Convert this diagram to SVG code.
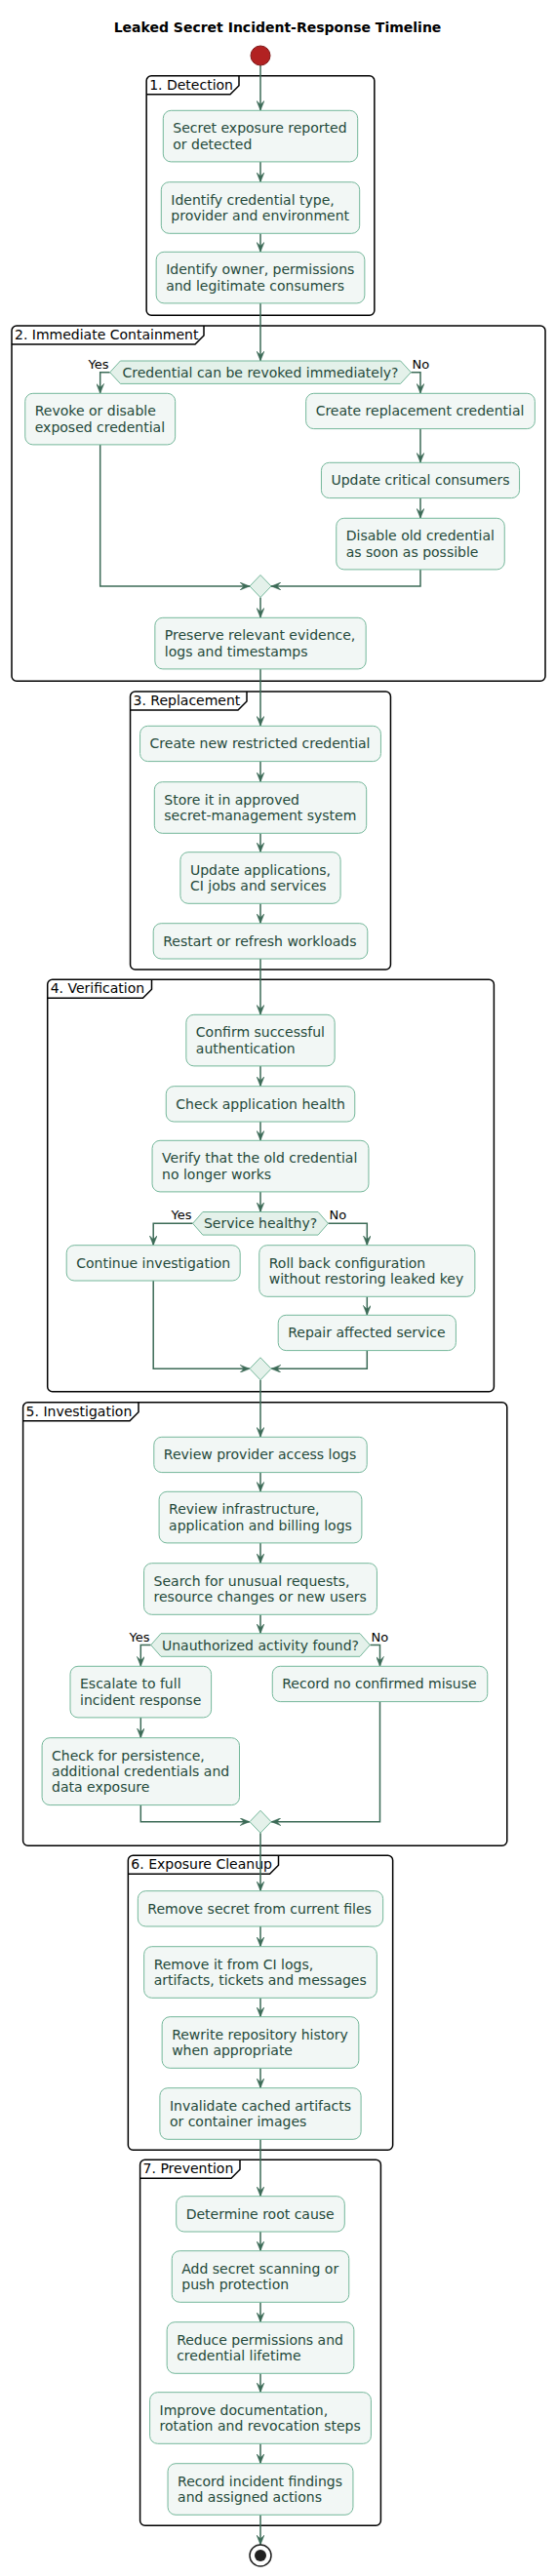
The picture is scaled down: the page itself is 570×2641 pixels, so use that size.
<svg xmlns="http://www.w3.org/2000/svg" width="570" height="2641" viewBox="0 0 570 2641">
<defs>
<style>
text{font-family:"DejaVu Sans","Noto Sans",sans-serif;}
.title{font-size:14px;font-weight:bold;fill:#000;}
.frame{fill:none;stroke:#000;stroke-width:1.5;}
.tab{fill:none;stroke:#000;stroke-width:1.5;}
.ft{font-size:14px;fill:#000;}
.act{fill:#F2F7F5;stroke:#74B79A;stroke-width:1;}
.dec{fill:#E4F1EA;stroke:#74B79A;stroke-width:1;}
.nt{font-size:14px;fill:#24493A;}
.lbl{font-size:13px;fill:#000;}
.con{fill:none;stroke:#3C6B57;stroke-width:1.5;marker-end:url(#ah);}
</style>
<marker id="ah" markerUnits="userSpaceOnUse" markerWidth="10" markerHeight="8" viewBox="0 0 10 8" refX="10" refY="4" orient="auto">
<polygon points="0,0 10,4 0,8 4,4" fill="#3C6B57" stroke="#3C6B57" stroke-width="0.5"/>
</marker>
</defs>
<rect x="0" y="0" width="570" height="2641" fill="#FFFFFF"/>
<text class="title" x="284.5" y="33" text-anchor="middle">Leaked Secret Incident-Response Timeline</text>

<g id="frames">
<g id="frame1"><rect class="frame" x="150.15" y="77.7" width="233.7" height="245.6" rx="5"/><path class="tab" d="M150.15,96.7 L236,96.7 L245,87.7 L245,77.7"/><text class="ft" x="153.15" y="91.7">1. Detection</text></g>
<g id="frame2"><rect class="frame" x="12" y="334" width="547" height="364.3" rx="5"/><path class="tab" d="M12,353 L200,353 L209,344 L209,334"/><text class="ft" x="15" y="348">2. Immediate Containment</text></g>
<g id="frame3"><rect class="frame" x="133.55" y="709" width="266.9" height="285" rx="5"/><path class="tab" d="M133.55,728 L244,728 L253,719 L253,709"/><text class="ft" x="136.55" y="723">3. Replacement</text></g>
<g id="frame4"><rect class="frame" x="48.7" y="1004.3" width="457.7" height="422.4" rx="5"/><path class="tab" d="M48.7,1023.3 L146.5,1023.3 L155.5,1014.3 L155.5,1004.3"/><text class="ft" x="51.7" y="1018.3">4. Verification</text></g>
<g id="frame5"><rect class="frame" x="23.6" y="1437.7" width="496.2" height="454.6" rx="5"/><path class="tab" d="M23.6,1456.7 L133,1456.7 L142,1447.7 L142,1437.7"/><text class="ft" x="26.6" y="1451.7">5. Investigation</text></g>
<g id="frame6"><rect class="frame" x="131.35" y="1902.3" width="271.3" height="302" rx="5"/><path class="tab" d="M131.35,1921.3 L276.5,1921.3 L285.5,1912.3 L285.5,1902.3"/><text class="ft" x="134.35" y="1916.3">6. Exposure Cleanup</text></g>
<g id="frame7"><rect class="frame" x="143.6" y="2214.3" width="246.8" height="375" rx="5"/><path class="tab" d="M143.6,2233.3 L237,2233.3 L246,2224.3 L246,2214.3"/><text class="ft" x="146.6" y="2228.3">7. Prevention</text></g>
</g>

<g id="connectors">
<path class="con" d="M267,67 L267,113.3"/>
<path class="con" d="M267,165.9 L267,186.7"/>
<path class="con" d="M267,239.3 L267,258.3"/>
<path class="con" d="M267,310.9 L267,370"/>
<path class="con" d="M112.7,381.7 L102.7,381.7 L102.7,403.3"/>
<path class="con" d="M421.3,381.7 L431,381.7 L431,403.3"/>
<path class="con" d="M431,439.6 L431,474.3"/>
<path class="con" d="M431,510.6 L431,531.3"/>
<path class="con" d="M102.7,455.9 L102.7,601 L256,601"/>
<path class="con" d="M431,583.9 L431,601 L278,601"/>
<path class="con" d="M267,612.5 L267,633.3"/>
<path class="con" d="M267,685.9 L267,744.3"/>
<path class="con" d="M267,780.6 L267,801.7"/>
<path class="con" d="M267,854.3 L267,873.7"/>
<path class="con" d="M267,926.3 L267,946.7"/>
<path class="con" d="M267,983 L267,1040.3"/>
<path class="con" d="M267,1092.9 L267,1113.7"/>
<path class="con" d="M267,1150 L267,1169.3"/>
<path class="con" d="M267,1221.9 L267,1242.5"/>
<path class="con" d="M197.6,1254.3 L157.2,1254.3 L157.2,1276.7"/>
<path class="con" d="M336.4,1254.3 L376.3,1254.3 L376.3,1276.7"/>
<path class="con" d="M376.3,1329.3 L376.3,1348.3"/>
<path class="con" d="M157.2,1313 L157.2,1403.3 L256,1403.3"/>
<path class="con" d="M376.3,1384.6 L376.3,1403.3 L278,1403.3"/>
<path class="con" d="M267,1414.8 L267,1473.3"/>
<path class="con" d="M267,1509.6 L267,1529.3"/>
<path class="con" d="M267,1581.9 L267,1602.7"/>
<path class="con" d="M267,1655.3 L267,1674.7"/>
<path class="con" d="M154.7,1686.5 L144.3,1686.5 L144.3,1708.3"/>
<path class="con" d="M379.3,1686.5 L389.5,1686.5 L389.5,1708.3"/>
<path class="con" d="M144.3,1760.9 L144.3,1781.7"/>
<path class="con" d="M144.3,1850.6 L144.3,1867.7 L256,1867.7"/>
<path class="con" d="M389.5,1744.6 L389.5,1867.7 L278,1867.7"/>
<path class="con" d="M267,1879.2 L267,1938.7"/>
<path class="con" d="M267,1975 L267,1995.7"/>
<path class="con" d="M267,2048.3 L267,2067.7"/>
<path class="con" d="M267,2120.3 L267,2140.7"/>
<path class="con" d="M267,2193.3 L267,2251.7"/>
<path class="con" d="M267,2288 L267,2307.7"/>
<path class="con" d="M267,2360.3 L267,2380.7"/>
<path class="con" d="M267,2433.3 L267,2452.7"/>
<path class="con" d="M267,2505.3 L267,2525.7"/>
<path class="con" d="M267,2578.3 L267,2609"/>
</g>

<g id="start"><circle cx="267" cy="57" r="10" fill="#B22222" stroke="#7F1A1A" stroke-width="1"/></g>

<g id="n1"><rect class="act" x="167.3" y="113.3" width="199.4" height="52.6" rx="8"/><text class="nt" x="177.3" y="136.3">Secret exposure reported</text><text class="nt" x="177.3" y="152.6">or detected</text></g>
<g id="n2"><rect class="act" x="165.3" y="186.7" width="203.4" height="52.6" rx="8"/><text class="nt" x="175.3" y="209.7">Identify credential type,</text><text class="nt" x="175.3" y="226">provider and environment</text></g>
<g id="n3"><rect class="act" x="160.15" y="258.3" width="213.7" height="52.6" rx="8"/><text class="nt" x="170.15" y="281.3">Identify owner, permissions</text><text class="nt" x="170.15" y="297.6">and legitimate consumers</text></g>

<g id="d1"><polygon class="dec" points="112.7,381.7 123.4,370 410.6,370 421.3,381.7 410.6,393.4 123.4,393.4"/><text class="nt" x="267" y="386.7" text-anchor="middle" textLength="283" lengthAdjust="spacingAndGlyphs">Credential can be revoked immediately?</text><text class="lbl" x="111.5" y="377.5" text-anchor="end">Yes</text><text class="lbl" x="422.5" y="377.5">No</text></g>
<g id="c_revoke"><rect class="act" x="25.75" y="403.3" width="153.9" height="52.6" rx="8"/><text class="nt" x="35.75" y="426.3">Revoke or disable</text><text class="nt" x="35.75" y="442.6">exposed credential</text></g>
<g id="c_create"><rect class="act" x="313.65" y="403.3" width="234.7" height="36.3" rx="8"/><text class="nt" x="323.65" y="426.3">Create replacement credential</text></g>
<g id="c_update"><rect class="act" x="329.45" y="474.3" width="203.1" height="36.3" rx="8"/><text class="nt" x="339.45" y="497.3">Update critical consumers</text></g>
<g id="c_disable"><rect class="act" x="344.75" y="531.3" width="172.5" height="52.6" rx="8"/><text class="nt" x="354.75" y="554.3">Disable old credential</text><text class="nt" x="354.75" y="570.6">as soon as possible</text></g>
<g id="m1"><polygon class="dec" points="267,589.5 278,601 267,612.5 256,601"/></g>
<g id="c_preserve"><rect class="act" x="158.85" y="633.3" width="216.3" height="52.6" rx="8"/><text class="nt" x="168.85" y="656.3">Preserve relevant evidence,</text><text class="nt" x="168.85" y="672.6">logs and timestamps</text></g>

<g id="r1"><rect class="act" x="143.55" y="744.3" width="246.9" height="36.3" rx="8"/><text class="nt" x="153.55" y="767.3">Create new restricted credential</text></g>
<g id="r2"><rect class="act" x="158.3" y="801.7" width="217.4" height="52.6" rx="8"/><text class="nt" x="168.3" y="824.7">Store it in approved</text><text class="nt" x="168.3" y="841">secret-management system</text></g>
<g id="r3"><rect class="act" x="184.9" y="873.7" width="164.2" height="52.6" rx="8"/><text class="nt" x="194.9" y="896.7">Update applications,</text><text class="nt" x="194.9" y="913">CI jobs and services</text></g>
<g id="r4"><rect class="act" x="157.2" y="946.7" width="219.6" height="36.3" rx="8"/><text class="nt" x="167.2" y="969.7">Restart or refresh workloads</text></g>

<g id="v1"><rect class="act" x="190.85" y="1040.3" width="152.3" height="52.6" rx="8"/><text class="nt" x="200.85" y="1063.3">Confirm successful</text><text class="nt" x="200.85" y="1079.6">authentication</text></g>
<g id="v2"><rect class="act" x="170.25" y="1113.7" width="193.5" height="36.3" rx="8"/><text class="nt" x="180.25" y="1136.7">Check application health</text></g>
<g id="v3"><rect class="act" x="156.05" y="1169.3" width="221.9" height="52.6" rx="8"/><text class="nt" x="166.05" y="1192.3">Verify that the old credential</text><text class="nt" x="166.05" y="1208.6">no longer works</text></g>
<g id="d2"><polygon class="dec" points="197.6,1254.3 207.9,1242.5 326.1,1242.5 336.4,1254.3 326.1,1266.1 207.9,1266.1"/><text class="nt" x="267" y="1259.3" text-anchor="middle">Service healthy?</text><text class="lbl" x="196.5" y="1250.3" text-anchor="end">Yes</text><text class="lbl" x="337.5" y="1250.3">No</text></g>
<g id="v_continue"><rect class="act" x="68.2" y="1276.7" width="178" height="36.3" rx="8"/><text class="nt" x="78.2" y="1299.7">Continue investigation</text></g>
<g id="v_rollback"><rect class="act" x="265.75" y="1276.7" width="221.1" height="52.6" rx="8"/><text class="nt" x="275.75" y="1299.7">Roll back configuration</text><text class="nt" x="275.75" y="1316">without restoring leaked key</text></g>
<g id="v_repair"><rect class="act" x="285.2" y="1348.3" width="182.2" height="36.3" rx="8"/><text class="nt" x="295.2" y="1371.3">Repair affected service</text></g>
<g id="m2"><polygon class="dec" points="267,1391.8 278,1403.3 267,1414.8 256,1403.3"/></g>

<g id="i1"><rect class="act" x="157.8" y="1473.3" width="218.4" height="36.3" rx="8"/><text class="nt" x="167.8" y="1496.3">Review provider access logs</text></g>
<g id="i2"><rect class="act" x="163.1" y="1529.3" width="207.8" height="52.6" rx="8"/><text class="nt" x="173.1" y="1552.3">Review infrastructure,</text><text class="nt" x="173.1" y="1568.6">application and billing logs</text></g>
<g id="i3"><rect class="act" x="147.55" y="1602.7" width="238.9" height="52.6" rx="8"/><text class="nt" x="157.55" y="1625.7">Search for unusual requests,</text><text class="nt" x="157.55" y="1642">resource changes or new users</text></g>
<g id="d3"><polygon class="dec" points="154.7,1686.5 165,1674.7 369,1674.7 379.3,1686.5 369,1698.3 165,1698.3"/><text class="nt" x="267" y="1691.5" text-anchor="middle">Unauthorized activity found?</text><text class="lbl" x="153.5" y="1682.8" text-anchor="end">Yes</text><text class="lbl" x="380.5" y="1682.8">No</text></g>
<g id="i_escalate"><rect class="act" x="72" y="1708.3" width="144.6" height="52.6" rx="8"/><text class="nt" x="82" y="1731.3">Escalate to full</text><text class="nt" x="82" y="1747.6">incident response</text></g>
<g id="i_check"><rect class="act" x="43.1" y="1781.7" width="202.4" height="68.9" rx="8"/><text class="nt" x="53.1" y="1804.7">Check for persistence,</text><text class="nt" x="53.1" y="1821">additional credentials and</text><text class="nt" x="53.1" y="1837.3">data exposure</text></g>
<g id="i_record"><rect class="act" x="279.25" y="1708.3" width="220.5" height="36.3" rx="8"/><text class="nt" x="289.25" y="1731.3">Record no confirmed misuse</text></g>
<g id="m3"><polygon class="dec" points="267,1856.2 278,1867.7 267,1879.2 256,1867.7"/></g>

<g id="e1"><rect class="act" x="141.35" y="1938.7" width="251.3" height="36.3" rx="8"/><text class="nt" x="151.35" y="1961.7">Remove secret from current files</text></g>
<g id="e2"><rect class="act" x="147.65" y="1995.7" width="238.7" height="52.6" rx="8"/><text class="nt" x="157.65" y="2018.7">Remove it from CI logs,</text><text class="nt" x="157.65" y="2035">artifacts, tickets and messages</text></g>
<g id="e3"><rect class="act" x="166.15" y="2067.7" width="201.7" height="52.6" rx="8"/><text class="nt" x="176.15" y="2090.7">Rewrite repository history</text><text class="nt" x="176.15" y="2107">when appropriate</text></g>
<g id="e4"><rect class="act" x="163.9" y="2140.7" width="206.2" height="52.6" rx="8"/><text class="nt" x="173.9" y="2163.7">Invalidate cached artifacts</text><text class="nt" x="173.9" y="2180">or container images</text></g>

<g id="p1"><rect class="act" x="180.7" y="2251.7" width="172.6" height="36.3" rx="8"/><text class="nt" x="190.7" y="2274.7">Determine root cause</text></g>
<g id="p2"><rect class="act" x="176.25" y="2307.7" width="181.5" height="52.6" rx="8"/><text class="nt" x="186.25" y="2330.7">Add secret scanning or</text><text class="nt" x="186.25" y="2347">push protection</text></g>
<g id="p3"><rect class="act" x="171.15" y="2380.7" width="191.7" height="52.6" rx="8"/><text class="nt" x="181.15" y="2403.7">Reduce permissions and</text><text class="nt" x="181.15" y="2420">credential lifetime</text></g>
<g id="p4"><rect class="act" x="153.6" y="2452.7" width="226.8" height="52.6" rx="8"/><text class="nt" x="163.6" y="2475.7">Improve documentation,</text><text class="nt" x="163.6" y="2492">rotation and revocation steps</text></g>
<g id="p5"><rect class="act" x="172.05" y="2525.7" width="189.9" height="52.6" rx="8"/><text class="nt" x="182.05" y="2548.7">Record incident findings</text><text class="nt" x="182.05" y="2565">and assigned actions</text></g>

<g id="end"><circle cx="267" cy="2620" r="11" fill="#FFFFFF" stroke="#222222" stroke-width="1.5"/><circle cx="267" cy="2620" r="6" fill="#222222"/></g>
</svg>
